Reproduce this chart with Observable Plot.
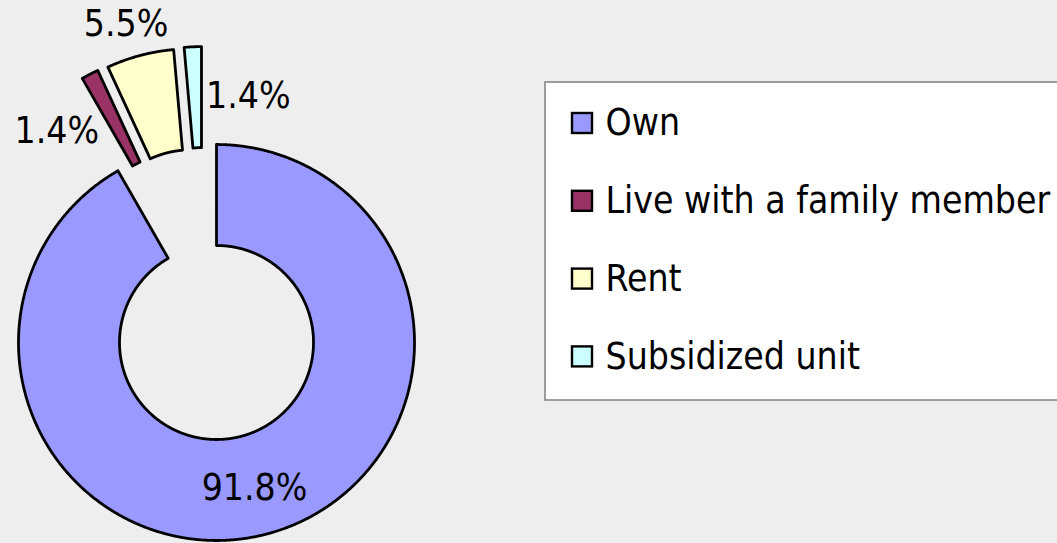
<!DOCTYPE html>
<html>
<head>
<meta charset="utf-8">
<script src="https://cdn.jsdelivr.net/npm/d3@7"></script>
<script src="https://cdn.jsdelivr.net/npm/@observablehq/plot@0.6"></script>
<style>
  html, body { margin: 0; padding: 0; background: #EEEEEE; }
  #chart { width: 1057px; height: 543px; overflow: hidden; }
</style>
</head>
<body>
<div id="chart"></div>
<script>
// ---- data ----
const categories = ["Own", "Live with a family member", "Rent", "Subsidized unit"];
const shares = [91.8, 1.4, 5.5, 1.4];
const valueLabels = ["91.8%", "1.4%", "5.5%", "1.4%"];
const colors = ["#9999FF", "#993366", "#FFFFCC", "#CCFFFF"];

// ---- layout ----
const W = 1057, H = 543;
const cx = 216, cy = 342, R = 198, r = 97, explode = 99;
const font = "'DejaVu Sans Condensed', 'DejaVu Sans', sans-serif";
const fontSize = 37;

const pie = d3.pie().sort(null).value(d => d).startAngle(0).endAngle(2 * Math.PI)(shares);
const groupMid = (pie[1].startAngle + pie[pie.length - 1].endAngle) / 2;
const midOf = i => (pie[i].startAngle + pie[i].endAngle) / 2;
function apex(i) {
  if (i === 0) return [cx, cy];
  const dir = (midOf(i) + groupMid) / 2;
  return [cx + explode * Math.sin(dir), cy - explode * Math.cos(dir)];
}
const pt = (c, rad, a) => [c[0] + rad * Math.sin(a), c[1] - rad * Math.cos(a)];

// slice outlines
const rows = [];
pie.forEach((p, i) => {
  const c = apex(i);
  const n = Math.max(2, Math.ceil((p.endAngle - p.startAngle) / 0.004));
  const poly = [];
  for (let k = 0; k <= n; k++) poly.push(pt(c, R, p.startAngle + (p.endAngle - p.startAngle) * k / n));
  for (let k = n; k >= 0; k--) poly.push(pt(c, r, p.startAngle + (p.endAngle - p.startAngle) * k / n));
  poly.push(poly[0]);
  poly.forEach(([x, y], k) => rows.push({cat: categories[i], color: colors[i], x, y, k}));
});

// value labels (placed relative to each slice's centroid)
const nudges = [
  {dx: 0, dy: 3, anchor: "middle"},
  {dx: -14, dy: 12, anchor: "end"},
  {dx: -27, dy: -80, anchor: "middle"},
  {dx: 11, dy: -1, anchor: "start"}
];
const labelRows = pie.map((p, i) => {
  const [x, y] = pt(apex(i), (R + r) / 2, midOf(i));
  return {text: valueLabels[i], x: x + nudges[i].dx, y: y + nudges[i].dy, anchor: nudges[i].anchor};
});

// legend
const legX = 545, legY1 = 82, legY2 = 400, rowGap = 77.8, firstRow = 123, sw = 20;
const legendRows = categories.map((c, i) => ({
  cat: c, color: colors[i],
  y: firstRow + i * rowGap,
  x1: 572, x2: 572 + sw,
  y1: firstRow + i * rowGap - sw / 2, y2: firstRow + i * rowGap + sw / 2
}));

const chart = Plot.plot({
  width: W, height: H,
  margin: 0,
  x: {type: "identity", axis: null},
  y: {type: "identity", axis: null},
  color: {type: "identity"},
  style: {background: "#EEEEEE", overflow: "visible"},
  marks: [
    Plot.line(rows, {x: "x", y: "y", z: "cat", fill: "color", stroke: "black", strokeWidth: 2.8, strokeLinejoin: "round", curve: "linear"}),
    Plot.text(labelRows.filter(d => d.anchor === "middle"), {x: "x", y: "y", text: "text", textAnchor: "middle", lineAnchor: "middle", fontSize, fontFamily: font, fill: "black"}),
    Plot.text(labelRows.filter(d => d.anchor === "end"), {x: "x", y: "y", text: "text", textAnchor: "end", lineAnchor: "middle", fontSize, fontFamily: font, fill: "black"}),
    Plot.text(labelRows.filter(d => d.anchor === "start"), {x: "x", y: "y", text: "text", textAnchor: "start", lineAnchor: "middle", fontSize, fontFamily: font, fill: "black"}),
    Plot.rect([{x1: legX, x2: W + 20, y1: legY1, y2: legY2}], {x1: "x1", x2: "x2", y1: "y1", y2: "y2", fill: "white", stroke: "#808080", strokeWidth: 1.5}),
    Plot.rect(legendRows, {x1: "x1", x2: "x2", y1: "y1", y2: "y2", fill: "color", stroke: "black", strokeWidth: 2.4}),
    Plot.text(legendRows, {x: 605, y: "y", text: "cat", textAnchor: "start", lineAnchor: "middle", fontSize, fontFamily: font, fill: "black"})
  ]
});
document.getElementById("chart").appendChild(chart);
</script>
</body>
</html>
